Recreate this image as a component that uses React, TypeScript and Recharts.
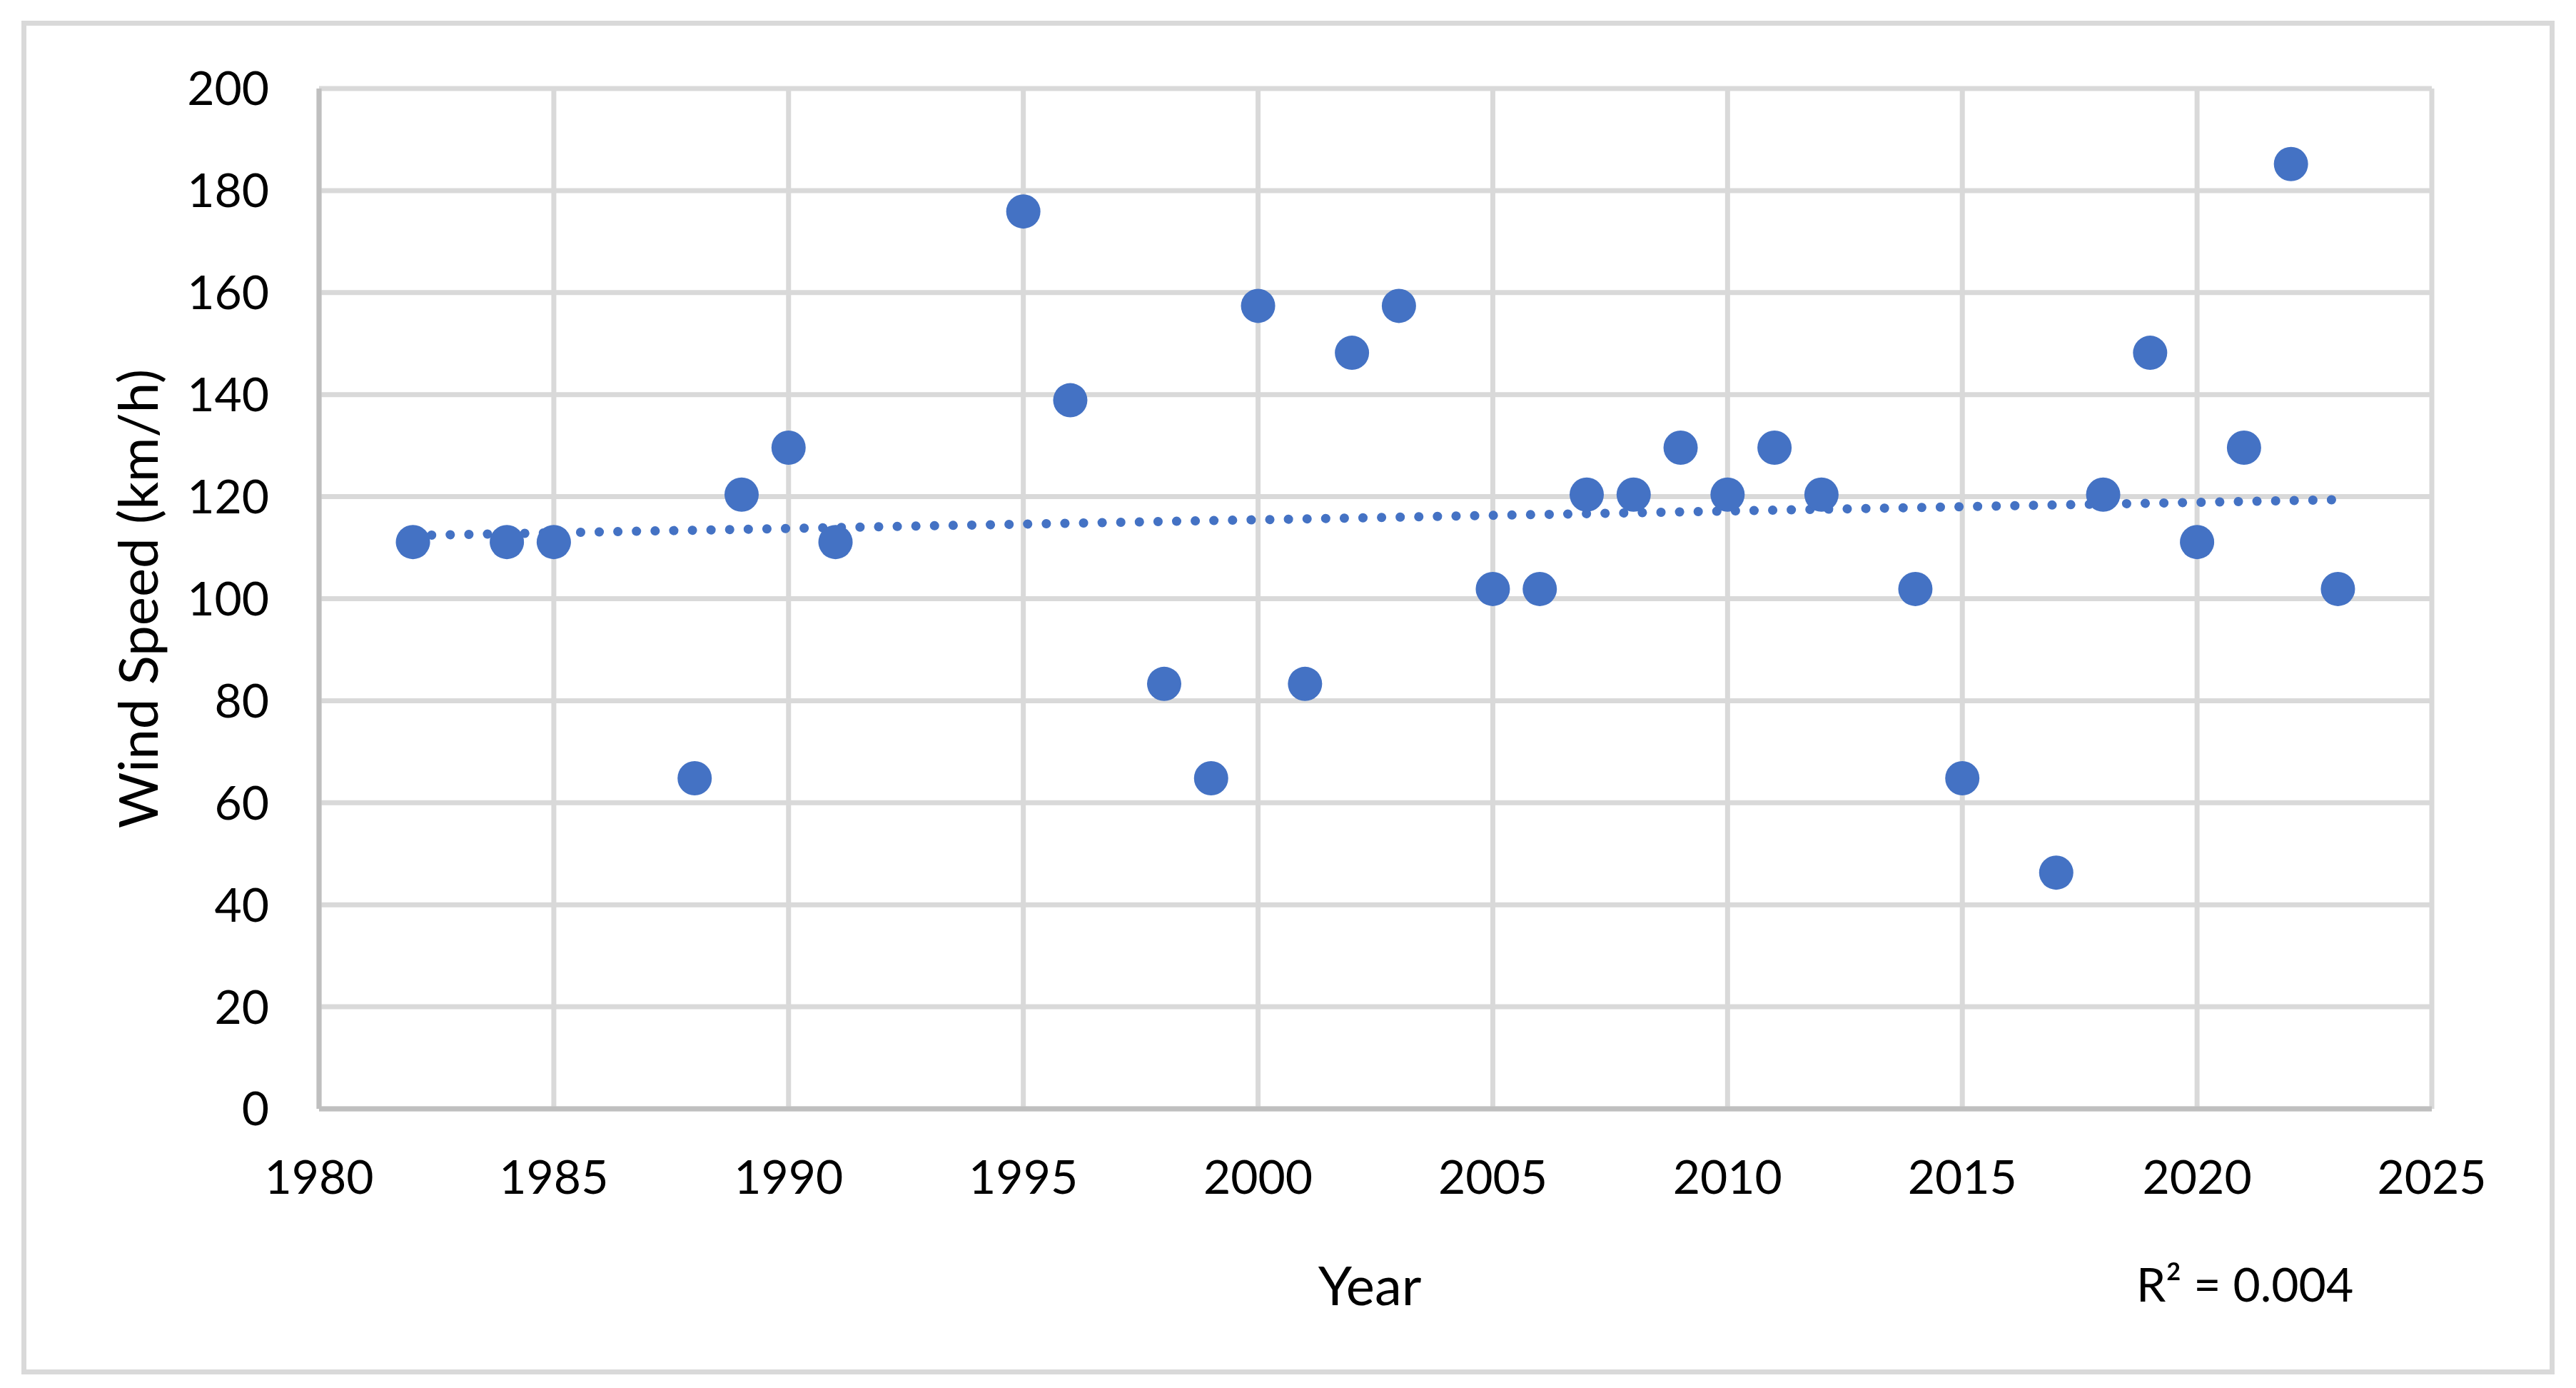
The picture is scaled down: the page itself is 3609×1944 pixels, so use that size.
import React from 'react';
import { ScatterChart, Scatter, XAxis, YAxis, CartesianGrid, ReferenceLine, Label } from 'recharts';

const years = [1982, 1984, 1985, 1988, 1989, 1990, 1991, 1995, 1996, 1998, 1999, 2000, 2001, 2002, 2003, 2005, 2006, 2007, 2008, 2009, 2010, 2011, 2012, 2014, 2015, 2017, 2018, 2019, 2020, 2021, 2022, 2023];
const speeds = [111.1, 111.1, 111.1, 64.8, 120.4, 129.6, 111.1, 175.9, 138.9, 83.3, 64.8, 157.4, 83.3, 148.2, 157.4, 101.9, 101.9, 120.4, 120.4, 129.6, 120.4, 129.6, 120.4, 101.9, 64.8, 46.3, 120.4, 148.2, 111.1, 129.6, 185.2, 101.9];

const xTicks = [1980, 1985, 1990, 1995, 2000, 2005, 2010, 2015, 2020, 2025];
const yTicks = [0, 20, 40, 60, 80, 100, 120, 140, 160, 180, 200];

// linear trendline ends
const trendYears = [1982, 2023];
const trendSpeeds = [112.4, 119.4];

const BLUE = '#4472C4';
const FONT = 'Lato, "Open Sans", sans-serif';

const points = years.map((year, i) => ({ year, speed: speeds[i] }));

const Dot = (props: any) => <circle cx={props.cx} cy={props.cy} r={24} fill={BLUE} />;

const YTitle = ({ viewBox }: any) => {
  const x = viewBox.x + 221;
  const y = viewBox.y + viewBox.height / 2;
  return (
    <text x={x} y={y} transform={`rotate(-90, ${x}, ${y})`} textAnchor="middle" fontSize={76} fontFamily={FONT} fill="#000">
      Wind Speed (km/h)
    </text>
  );
};

const XTitle = ({ viewBox }: any) => (
  <text x={viewBox.x + viewBox.width / 2 - 8} y={viewBox.y + 275} textAnchor="middle" fontSize={76} fontFamily={FONT} fill="#000">
    Year
  </text>
);

export default function App() {
  return (
    <div style={{ position: 'absolute', left: 0, top: 0, width: 3609, height: 1944, background: '#fff' }}>
      <div
        style={{
          position: 'absolute',
          left: 30,
          top: 29,
          width: 3549,
          height: 1896,
          border: '7px solid #D9D9D9',
          boxSizing: 'border-box',
        }}
      />
      <div style={{ position: 'absolute', left: 0, top: 0 }}>
        <ScatterChart width={3609} height={1944} margin={{ top: 124, right: 202, bottom: 0, left: 0 }}>
          <CartesianGrid stroke="#D9D9D9" strokeWidth={7} />
          <XAxis
            type="number"
            dataKey="year"
            domain={[1980, 2025]}
            ticks={xTicks}
            height={391}
            tickSize={0}
            tickMargin={72}
            axisLine={{ stroke: '#BFBFBF', strokeWidth: 7 }}
            tick={{ fill: '#000', fontSize: 66, fontFamily: FONT }}
          >
            <Label content={XTitle} />
          </XAxis>
          <YAxis
            type="number"
            dataKey="speed"
            domain={[0, 200]}
            ticks={yTicks}
            width={447}
            tickSize={0}
            tickMargin={70}
            axisLine={{ stroke: '#BFBFBF', strokeWidth: 7 }}
            tick={{ fill: '#000', fontSize: 66, fontFamily: FONT }}
          >
            <Label content={YTitle} />
          </YAxis>
          <Scatter data={points} fill={BLUE} shape={Dot} isAnimationActive={false} />
          <ReferenceLine
            segment={[
              { x: trendYears[0], y: trendSpeeds[0] },
              { x: trendYears[1], y: trendSpeeds[1] },
            ]}
            stroke={BLUE}
            strokeWidth={13}
            strokeDasharray="0.1 26"
            strokeLinecap="round"
            ifOverflow="visible"
          />
        </ScatterChart>
      </div>
      <div
        style={{
          position: 'absolute',
          left: 2993,
          top: 1820 - 62,
          fontSize: 66,
          fontFamily: FONT,
          color: '#000',
          lineHeight: '80px',
          whiteSpace: 'nowrap',
        }}
      >
        R² = 0.004
      </div>
    </div>
  );
}
